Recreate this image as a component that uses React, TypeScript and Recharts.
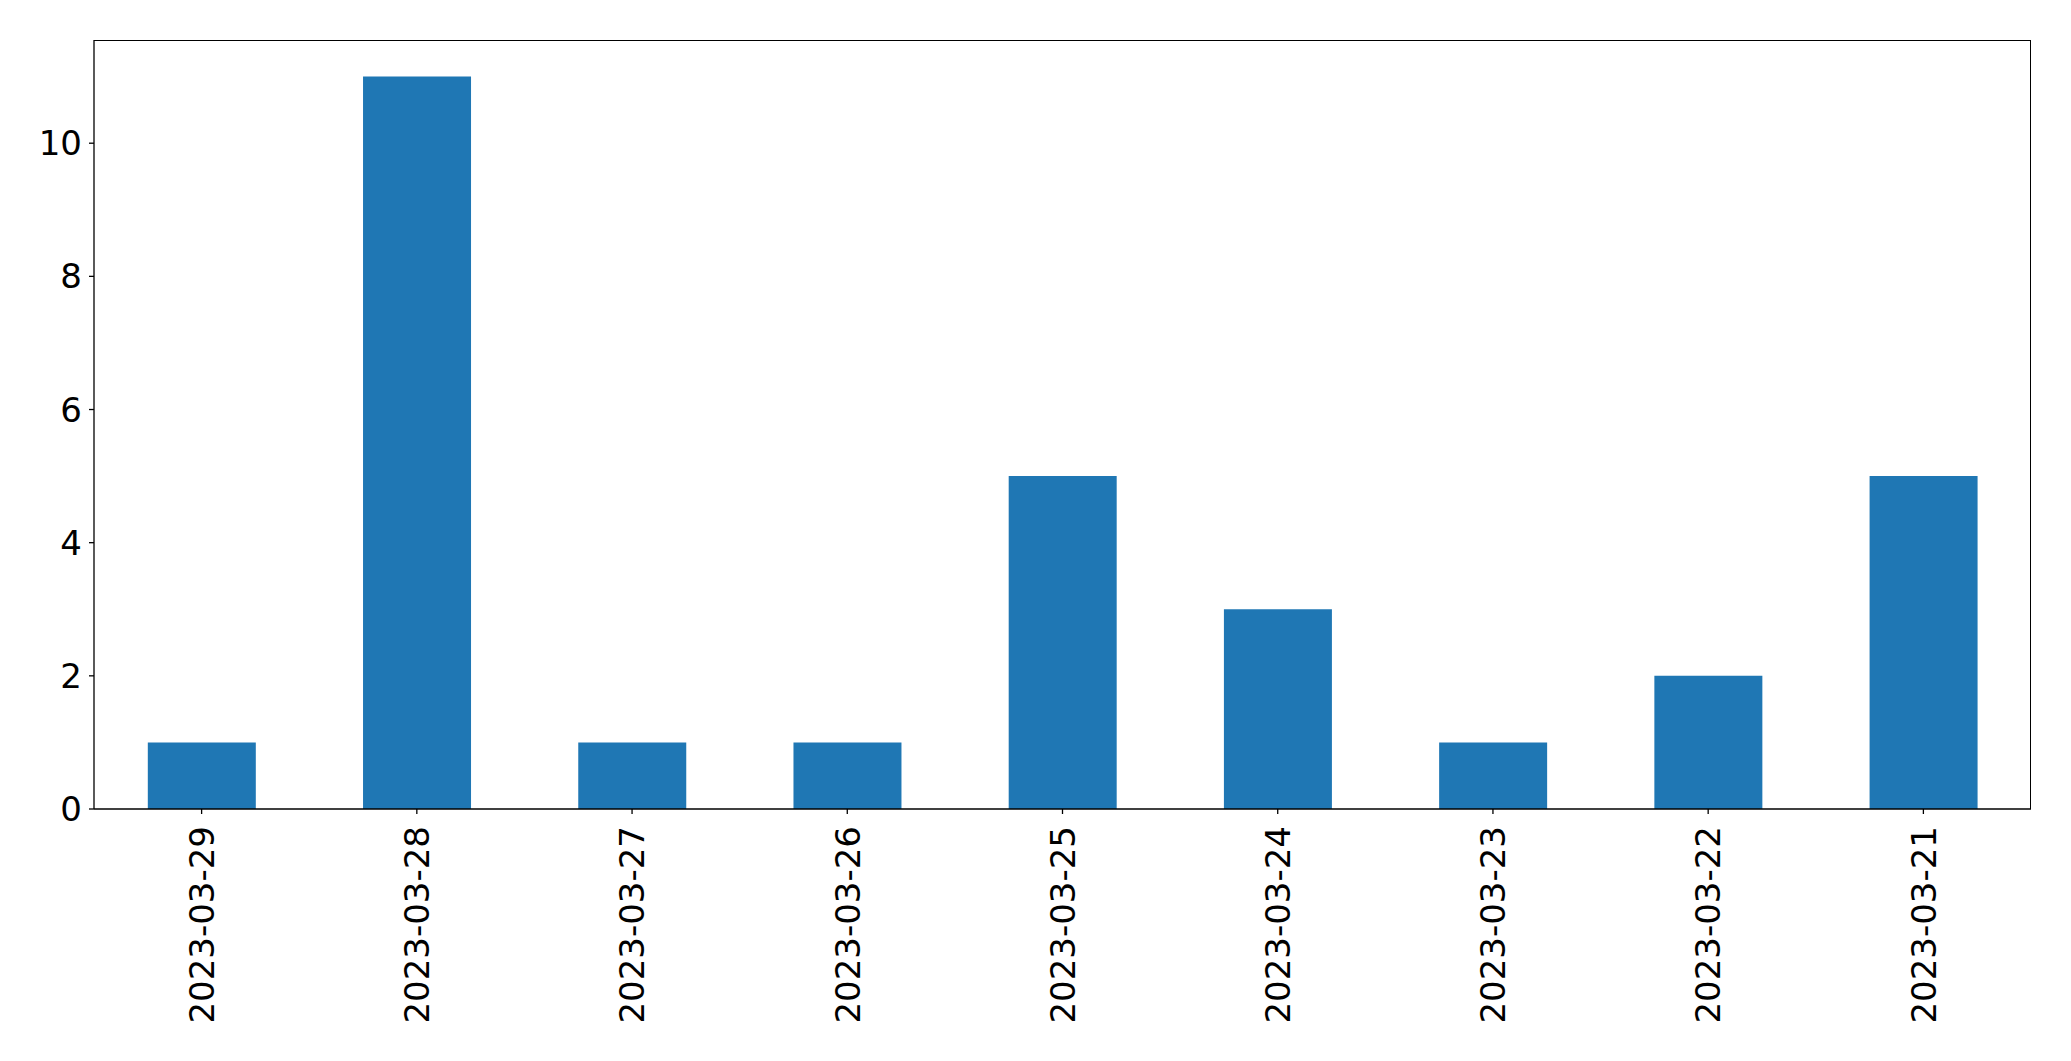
import React from "react";
import { BarChart, Bar, XAxis, YAxis } from "recharts";

const dates = [
  "2023-03-29",
  "2023-03-28",
  "2023-03-27",
  "2023-03-26",
  "2023-03-25",
  "2023-03-24",
  "2023-03-23",
  "2023-03-22",
  "2023-03-21",
];
const counts = [1, 11, 1, 1, 5, 3, 1, 2, 5];
const yTicks = [0, 2, 4, 6, 8, 10];

const data = dates.map((d, i) => ({ date: d, count: counts[i] }));

const FONT = "DejaVu Sans";

const XTick = (props: any) => {
  const { x, y, payload } = props;
  return (
    <g transform={`translate(${x},${y})`}>
      <text
        transform="rotate(-90)"
        x={-12}
        y={0}
        dy="0.36em"
        textAnchor="end"
        fontSize={34}
        fontFamily={FONT}
        fill="#000"
      >
        {payload.value}
      </text>
    </g>
  );
};

export default function App() {
  return (
    <div style={{ position: "absolute", left: 0, top: 0, width: 2071, height: 1061, background: "#fff" }}>
      <BarChart
        width={2071}
        height={1061}
        data={data}
        margin={{ top: 40, right: 40, left: 0, bottom: 0 }}
        barCategoryGap="25%"
      >
        <XAxis
          dataKey="date"
          height={252}
          interval={0}
          tick={<XTick />}
          tickSize={5}
          tickMargin={0}
          tickLine={{ stroke: "#000", strokeWidth: 1.3 }}
          axisLine={{ stroke: "#000", strokeWidth: 1.3 }}
        />
        <YAxis
          width={94}
          domain={[0, 11.55]}
          ticks={yTicks}
          interval={0}
          tickSize={5}
          tickMargin={7}
          tick={{ fontSize: 34, fontFamily: FONT, fill: "#000" }}
          tickLine={{ stroke: "#000", strokeWidth: 1.3 }}
          axisLine={{ stroke: "#000", strokeWidth: 1.3 }}
        />
        <Bar dataKey="count" fill="#1f77b4" isAnimationActive={false} />
      </BarChart>
      <div
        style={{
          position: "absolute",
          left: 94,
          top: 40,
          width: 2031 - 94,
          height: 809 - 40,
          boxSizing: "border-box",
          borderTop: "1.3px solid #000",
          borderRight: "1.3px solid #000",
          pointerEvents: "none",
        }}
      />
    </div>
  );
}
